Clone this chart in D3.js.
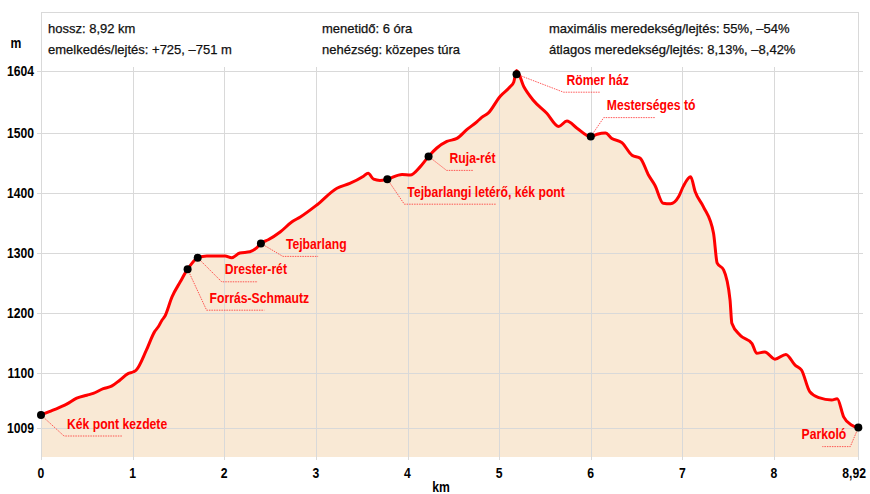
<!DOCTYPE html>
<html><head><meta charset="utf-8">
<script src="https://cdn.jsdelivr.net/npm/d3@7"></script>
<style>
html,body{margin:0;padding:0;background:#fff;}
svg{display:block;}
</style>
</head><body>
<svg id="c" width="870" height="494"></svg>
<script>
// ---- data ----
const profileKm = [0,0.13,0.28,0.39,0.50,0.57,0.68,0.77,0.86,0.95,1.01,1.04,1.15,1.24,1.28,1.32,1.35,1.43,1.52,1.60,1.71,1.81,2.01,2.08,2.17,2.28,2.35,2.40,2.48,2.61,2.74,2.83,3.01,3.23,3.37,3.52,3.57,3.63,3.70,3.78,3.94,4.03,4.14,4.23,4.32,4.43,4.54,4.65,4.76,4.81,4.88,5.01,5.12,5.16,5.19,5.27,5.37,5.52,5.65,5.74,5.85,6.00,6.07,6.16,6.23,6.34,6.45,6.54,6.63,6.70,6.79,6.87,6.96,7.01,7.09,7.14,7.23,7.34,7.38,7.45,7.52,7.54,7.63,7.76,7.81,7.90,8.01,8.13,8.23,8.30,8.39,8.49,8.63,8.69,8.76,8.85,8.92];
const profileElev = [1030,1038,1048,1058,1063,1066,1074,1078,1088,1099,1102,1105,1138,1169,1177,1188,1194,1227,1252,1273,1292,1295,1295,1292,1300,1302,1308,1316,1322,1335,1352,1360,1380,1408,1416,1428,1433,1423,1421,1423,1431,1430,1444,1461,1475,1486,1491,1506,1519,1526,1533,1561,1577,1585,1604,1577,1555,1533,1511,1520,1508,1494,1498,1500,1491,1484,1463,1458,1430,1413,1383,1382,1394,1411,1427,1402,1377,1333,1283,1272,1222,1183,1163,1149,1133,1135,1123,1131,1113,1105,1069,1059,1055,1057,1027,1013,1009];
const markerNames = ["Kék pont kezdete","Forrás-Schmautz","Drester-rét","Tejbarlang","Tejbarlangi letérő, kék pont","Ruja-rét","Römer ház","Mesterséges tó","Parkoló"];
const markerKm = [0,1.60,1.71,2.40,3.78,4.23,5.19,6.00,8.92];
const markerElev = [1030,1273,1292,1316,1423,1461,1598,1494,1009];
const yTicks = [1009,1100,1200,1300,1400,1500,1604];
const xTicks = [0,1,2,3,4,5,6,7,8,8.92];
const xTickLabels = ["0","1","2","3","4","5","6","7","8","8,92"];
const headerCol1 = ["hossz: 8,92 km","emelkedés/lejtés: +725, –751 m"];
const headerCol2 = ["menetidő: 6 óra","nehézség: közepes túra"];
const headerCol3 = ["maximális meredekség/lejtés: 55%, –54%","átlagos meredekség/lejtés: 8,13%, –8,42%"];
const yUnit = "m";
const xUnit = "km";

// ---- layout (not data) ----
const labelOffsets = [[23,21],[19,41],[24,24],[22,13],[17,25],[18,14],[47,18],[13,-19],[-8,19]];
const boldFont = "'Liberation Sans',Arial,sans-serif";
const regular = "'Liberation Sans',Arial,sans-serif";
const gridCol = "#d9d9d9";
const squeeze = 0.84;

function narrowText(sel){
  let last = 0;
  sel.each(function(){
    const w = this.getComputedTextLength();
    last = w*squeeze;
    d3.select(this).attr("textLength", last).attr("lengthAdjust","spacingAndGlyphs");
  });
  return last;
}

const svg = d3.select("#c");
const x = d3.scaleLinear().domain([0, 8.92]).range([41, 858.3]);
const y = d3.scaleLinear().domain([960, 1604]).range([457, 70.6]);
const frameTop = 12, plotBottom = 457;

const pts = profileKm.map((k,i)=>[k, profileElev[i]]);

// area fill
svg.append("path")
  .datum(pts)
  .attr("fill","#f9e9d5")
  .attr("d", d3.area().x(d=>x(d[0])).y0(plotBottom).y1(d=>y(d[1])).curve(d3.curveMonotoneX));

// grid
const g = svg.append("g").attr("stroke", gridCol).attr("stroke-width",1).attr("shape-rendering","crispEdges");
g.selectAll(".h").data(yTicks).join("line")
  .attr("x1",37).attr("x2",863).attr("y1",d=>Math.round(y(d))+0.5).attr("y2",d=>Math.round(y(d))+0.5);
g.selectAll(".v").data(xTicks.slice(1,-1)).join("line")
  .attr("x1",d=>Math.round(x(d))+0.5).attr("x2",d=>Math.round(x(d))+0.5).attr("y1",67).attr("y2",460);
// frame
g.append("line").attr("x1",x(0)).attr("x2",x(0)).attr("y1",frameTop).attr("y2",460);
g.append("line").attr("x1",x(8.92)).attr("x2",x(8.92)).attr("y1",frameTop).attr("y2",460);
g.append("line").attr("x1",x(0)).attr("x2",x(8.92)).attr("y1",frameTop+0.5).attr("y2",frameTop+0.5);

// header
const hdr = svg.append("g").attr("font-family",regular).attr("font-size",13).attr("fill","#111")
  .attr("stroke","#111").attr("stroke-width",0.25);
[[headerCol1,48],[headerCol2,322],[headerCol3,549]].forEach(([col,xx])=>{
  col.forEach((t,i)=>hdr.append("text").attr("x",xx).attr("y",33+i*21).text(t));
});

// axis labels
const ax = svg.append("g").attr("font-family",boldFont).attr("font-weight","bold").attr("font-size",14.5).attr("fill","#000");
narrowText(ax.selectAll(".yl").data(yTicks).join("text")
  .attr("x",34).attr("y",d=>y(d)+5).attr("text-anchor","end").text(d=>d));
narrowText(ax.selectAll(".xl").data(xTicks).join("text")
  .attr("x",(d,i)=> i===xTicks.length-1 ? 866 : x(d)).attr("y",477.5)
  .attr("text-anchor",(d,i)=> i===xTicks.length-1 ? "end" : "middle").text((d,i)=>xTickLabels[i]));
narrowText(ax.append("text").attr("x",441).attr("y",491.5).attr("text-anchor","middle").text(xUnit));
narrowText(ax.append("text").attr("x",16).attr("y",48).attr("text-anchor","middle").text(yUnit));

// profile line
svg.append("path")
  .datum(pts)
  .attr("fill","none").attr("stroke","#ff0000").attr("stroke-width",3).attr("stroke-linejoin","round")
  .attr("d", d3.line().x(d=>x(d[0])).y(d=>y(d[1])).curve(d3.curveMonotoneX));

// labels
const lab = svg.append("g");
markerNames.forEach((name,i)=>{
  const mx = x(markerKm[i]), my = y(markerElev[i]);
  const [dx,dy] = labelOffsets[i];
  const ex = mx+dx, ey = my+dy;
  const left = dx < 0;
  const t = lab.append("text")
    .attr("font-family",boldFont).attr("font-weight","bold").attr("font-size",14.5)
    .attr("fill","#ff0000")
    .attr("x", left ? ex-4 : ex+3).attr("y", ey-7.5)
    .attr("text-anchor", left ? "end" : "start")
    .text(name);
  const w = narrowText(t);
  const ul = left ? 28 : w*0.58;
  lab.append("path")
    .attr("d", `M${mx},${my}L${ex},${ey}L${left?ex-ul:ex+ul},${ey}`)
    .attr("fill","none").attr("stroke","#ff3030").attr("stroke-width",0.8).attr("stroke-dasharray","1.5,1");
});
// markers
svg.selectAll(".mk").data(markerKm).join("circle")
  .attr("cx",d=>x(d)).attr("cy",(d,i)=>y(markerElev[i])).attr("r",4).attr("fill","#000");
</script>
</body></html>
